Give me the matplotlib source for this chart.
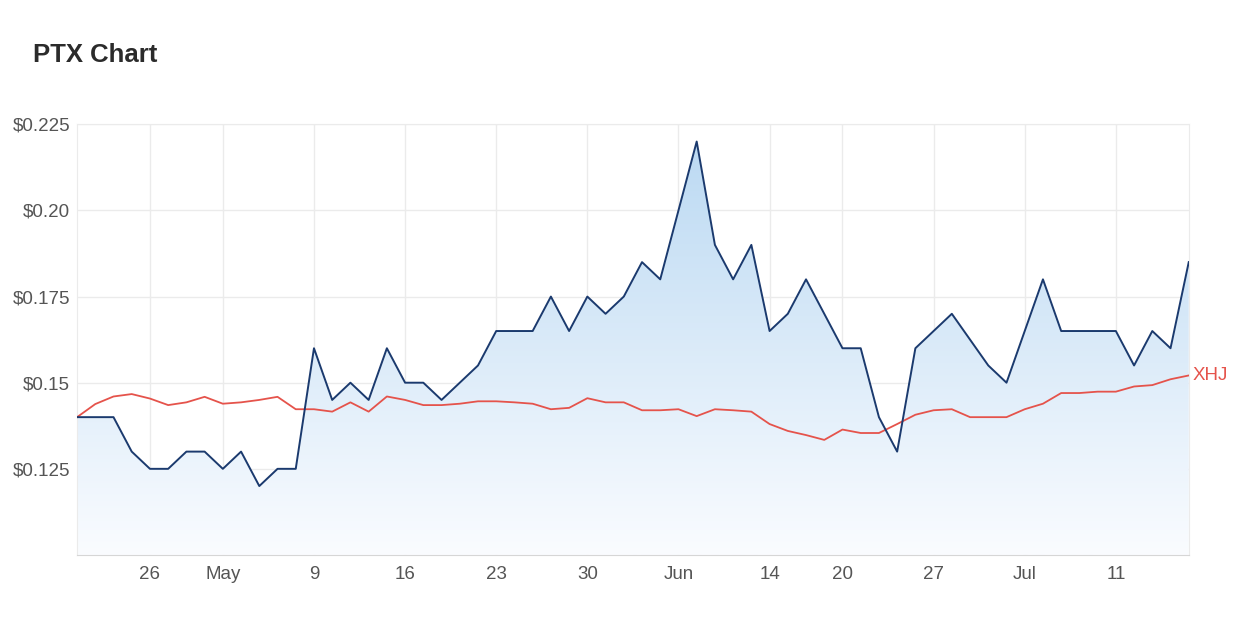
import numpy as np
import matplotlib.pyplot as plt
from matplotlib.colors import LinearSegmentedColormap
from matplotlib.patches import Polygon

NAVY = "#1b3a6e"
RED = "#e5534b"
TEXT_C = "#555555"
TITLE_C = "#2b2b2b"
GRID_C = "#ebebeb"

# trading-day index -> closing price
ptx = [0.14, 0.14, 0.14, 0.13, 0.125, 0.125, 0.13, 0.13, 0.125, 0.13,
       0.12, 0.125, 0.125, 0.16, 0.145, 0.15, 0.145, 0.16, 0.15, 0.15,
       0.145, 0.15, 0.155, 0.165, 0.165, 0.165, 0.175, 0.165, 0.175, 0.17,
       0.175, 0.185, 0.18, 0.20, 0.22, 0.19, 0.18, 0.19, 0.165, 0.17,
       0.18, 0.17, 0.16, 0.16, 0.14, 0.13, 0.16, 0.165, 0.17, 0.1625,
       0.155, 0.15, 0.165, 0.18, 0.165, 0.165, 0.165, 0.165, 0.155, 0.165,
       0.16, 0.185]

# sector index rebased to PTX start
xhj = [0.14, 0.1438, 0.146, 0.1467, 0.1454, 0.1435, 0.1443, 0.1459, 0.1439, 0.1443,
       0.145, 0.1459, 0.1423, 0.1423, 0.1416, 0.1443, 0.1416, 0.146, 0.145, 0.1435,
       0.1435, 0.1439, 0.1446, 0.1446, 0.1443, 0.1439, 0.1423, 0.1427, 0.1455, 0.1443,
       0.1443, 0.142, 0.142, 0.1423, 0.1403, 0.1423, 0.142, 0.1416, 0.138, 0.136,
       0.1348, 0.1334, 0.1364, 0.1354, 0.1354, 0.138, 0.1407, 0.142, 0.1423, 0.14,
       0.14, 0.14, 0.1423, 0.1439, 0.147, 0.147, 0.1474, 0.1474, 0.1489, 0.1493,
       0.151, 0.1521]

tick_idx = [4, 8, 13, 18, 23, 28, 33, 38, 42, 47, 52, 57]
tick_labels = ["26", "May", "9", "16", "23", "30", "Jun", "14", "20", "27", "Jul", "11"]
y_ticks = [0.125, 0.15, 0.175, 0.20, 0.225]
y_labels = ["$0.125", "$0.15", "$0.175", "$0.20", "$0.225"]

plt.rcParams["font.family"] = ["Liberation Sans", "DejaVu Sans"]

fig = plt.figure(figsize=(12.59, 6.31), dpi=100)
ax = fig.add_axes([0.0612, 0.1205, 0.8830, 0.6825])

x = np.arange(len(ptx))
ymin, ymax = 0.10, 0.225

# gradient fill under the price line
cmap = LinearSegmentedColormap.from_list("fill", ["#fafcff", "#b9d8f2"])
grad = np.linspace(0, 1, 256).reshape(-1, 1)
img = ax.imshow(grad, cmap=cmap, aspect="auto", origin="lower",
                extent=[x[0], x[-1], ymin, ymax], zorder=1)
verts = [(x[0], ymin)] + list(zip(x, ptx)) + [(x[-1], ymin)]
clip = Polygon(verts, closed=True, facecolor="none", edgecolor="none")
ax.add_patch(clip)
img.set_clip_path(clip)

ax.plot(x, xhj, color=RED, linewidth=1.3, zorder=3)
ax.plot(x, ptx, color=NAVY, linewidth=1.4, zorder=4)

ax.text(x[-1] + 0.2, xhj[-1], "XHJ", color=RED, fontsize=13.5,
        va="center", ha="left")

ax.set_xlim(x[0], x[-1])
ax.set_ylim(ymin, ymax)
ax.set_xticks(tick_idx)
ax.set_xticklabels(tick_labels)
ax.set_yticks(y_ticks)
ax.set_yticklabels(y_labels)
ax.tick_params(axis="both", length=0, labelsize=13.5, labelcolor=TEXT_C)
ax.tick_params(axis="x", pad=8)
ax.tick_params(axis="y", pad=5)

ax.grid(True, color=GRID_C, linewidth=1.0, zorder=0)
ax.set_axisbelow(True)
for side in ["top", "right", "left"]:
    ax.spines[side].set_color(GRID_C)
ax.spines["bottom"].set_color("#d6d6d6")

fig.text(0.026, 0.913, "PTX Chart", fontsize=18.5, fontweight="bold",
         color=TITLE_C, va="center", ha="left")

fig.savefig("out.png", dpi=100, facecolor="white")
